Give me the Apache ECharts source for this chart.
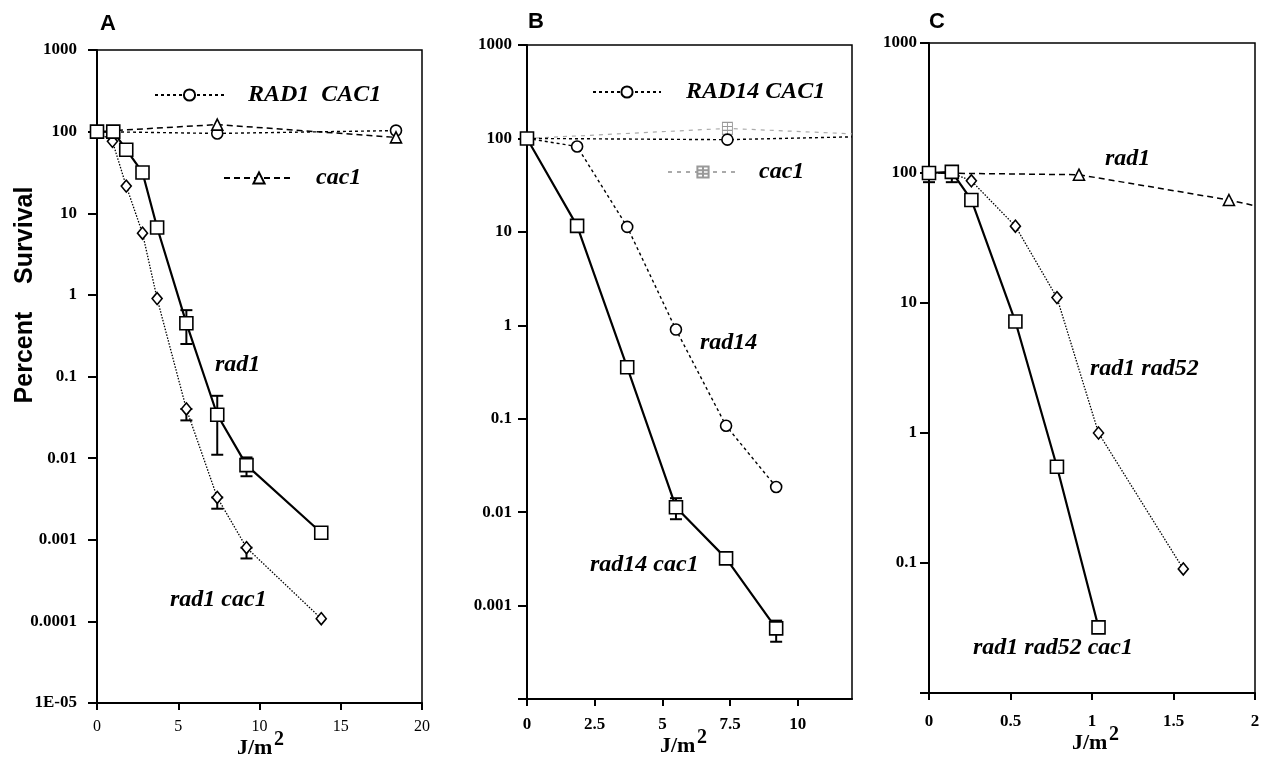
<!DOCTYPE html>
<html><head><meta charset="utf-8">
<script src="https://cdn.jsdelivr.net/npm/echarts@6/dist/echarts.min.js"></script>
<style>html,body{margin:0;padding:0;background:#fff}#c{width:1262px;height:760px}</style>
</head><body><div id="c"></div>
<script>
// ---------- Panel A ----------
const aRad1X    = [0, 1.0, 1.8, 2.8, 3.7, 5.5, 7.4, 9.2, 13.8];
const aRad1Y    = [100, 100, 60, 31.6, 6.7, 0.45, 0.034, 0.0082, 0.00122];
const aRad1CacX = [0, 0.95, 1.8, 2.8, 3.7, 5.5, 7.4, 9.2, 13.8];
const aRad1CacY = [100, 76, 21.5, 5.7, 0.9, 0.040, 0.0033, 0.0008, 0.000108];
const aWtX      = [0, 7.4, 18.4];
const aWtY      = [100, 95, 103];
const aCacX     = [0, 7.4, 18.4];
const aCacY     = [100, 122, 85];
const aRad1Err    = [[2.8, 27, 33], [5.5, 0.25, 0.65], [7.4, 0.011, 0.058], [9.2, 0.006, 0.0102]];
const aRad1CacErr = [[5.5, 0.029, 0.04], [7.4, 0.0024, 0.0033], [9.2, 0.00059, 0.0008]];
const aYTicks = ['1E-05','0.0001','0.001','0.01','0.1','1','10','100','1000'];

// ---------- Panel B ----------
const bRad14CacX = [0, 1.85, 3.7, 5.5, 7.35, 9.2];
const bRad14CacY = [100, 11.6, 0.355, 0.0113, 0.0032, 0.00057];
const bRad14X    = [0, 1.85, 3.7, 5.5, 7.35, 9.2];
const bRad14Y    = [100, 82, 11.3, 0.9, 0.084, 0.0186];
const bWtX       = [0, 7.4, 12];
const bWtY       = [100, 97, 104];
const bCacX      = [0, 7.4, 12];
const bCacY      = [100, 128, 112];
const bRad14CacErr = [[5.5, 0.0084, 0.0141], [9.2, 0.00041, 0.00069]];
const bYTicks = ['', '0.001','0.01','0.1','1','10','100','1000'];

// ---------- Panel C ----------
const cRad1X       = [0, 0.92, 1.84, 2.0];
const cRad1Y       = [100, 97, 62, 56];
const cRad52CacX   = [0, 0.14, 0.26, 0.53, 0.785, 1.04];
const cRad52CacY   = [100, 102, 62, 7.2, 0.55, 0.032];
const cRad52X      = [0, 0.14, 0.26, 0.53, 0.785, 1.04, 1.56];
const cRad52Y      = [100, 100, 87, 39, 11, 1.0, 0.09];
const cRad52CacErr = [[0, 85, 100], [0.14, 85, 102]];
const cYTicks = ['', '0.1','1','10','100','1000'];

const zip = (xs, ys) => xs.map((x, i) => [x, ys[i]]);
const SERIF = '"Liberation Serif", "Times New Roman", serif';
const SANS = '"Liberation Sans", Arial, sans-serif';
const LBL = 'italic bold 24px ' + SERIF;

const chart = echarts.init(document.getElementById('c'), null, {renderer: 'canvas'});

function yAxis(gi, minExp, maxExp, ticks, margin) {
  return {
    type: 'log', logBase: 10, gridIndex: gi,
    min: Math.pow(10, minExp), max: Math.pow(10, maxExp), interval: 1,
    axisLine: {show: true, lineStyle: {color: '#000', width: 2}},
    axisTick: {show: true, inside: false, length: 9, lineStyle: {color: '#000', width: 2}},
    minorTick: {show: false}, splitLine: {show: false},
    axisLabel: {
      margin: margin, color: '#000', fontFamily: SERIF, fontWeight: 'bold', fontSize: 17,
      formatter: v => { const e = Math.round(Math.log10(v)); return ticks[e - minExp] || ''; }
    }
  };
}
function xAxis(gi, max, interval, bold, margin, labels) {
  return {
    type: 'value', gridIndex: gi, min: 0, max: max, interval: interval,
    axisLine: {show: true, onZero: false, lineStyle: {color: '#000', width: 2}},
    axisTick: {show: true, inside: false, length: 7, lineStyle: {color: '#000', width: 2}},
    splitLine: {show: false},
    axisLabel: {
      margin: margin, color: '#000', fontFamily: SERIF, fontWeight: bold ? 'bold' : 'normal',
      fontSize: bold ? 17 : 16, showMaxLabel: labels,
      formatter: v => String(v)
    }
  };
}
const sym = {color: '#fff', borderColor: '#000', borderWidth: 1.6};
function line(name, data, xi, lineType, lineWidth, symbol, size, extra) {
  return Object.assign({
    type: 'line', name: name, xAxisIndex: xi, yAxisIndex: xi, data: data, z: 3,
    symbol: symbol, symbolSize: size, showSymbol: true, clip: true,
    lineStyle: {color: '#000', width: lineWidth, type: lineType},
    itemStyle: Object.assign({}, sym),
    emphasis: {disabled: true}, animation: false
  }, extra || {});
}
function errSeries(data, xi) {
  return {
    type: 'custom', xAxisIndex: xi, yAxisIndex: xi, data: data, z: 2, animation: false,
    renderItem: (params, api) => {
      const x = api.value(0), lo = api.value(1), hi = api.value(2);
      const p1 = api.coord([x, lo]), p2 = api.coord([x, hi]);
      const w = 6, st = {stroke: '#000', lineWidth: 2};
      return {type: 'group', children: [
        {type: 'line', shape: {x1: p1[0], y1: p1[1], x2: p2[0], y2: p2[1]}, style: st},
        {type: 'line', shape: {x1: p1[0] - w, y1: p1[1], x2: p1[0] + w, y2: p1[1]}, style: st},
        {type: 'line', shape: {x1: p2[0] - w, y1: p2[1], x2: p2[0] + w, y2: p2[1]}, style: st}
      ]};
    }
  };
}
const lastNone = (arr) => arr.map((p, i) => i === arr.length - 1 ? {value: p, symbol: 'none'} : p);
const hatch = 'path://M0 0H12V14H0Z M0 4.7H12 M0 9.3H12 M6 0V14';
const legendFmt = n => n.split(': ')[1];
function legend(name, left, top, width, pad) {
  return {
    data: [name], left: left, top: top, itemWidth: width, itemHeight: 14, padding: 0,
    selectedMode: false, formatter: legendFmt,
    textStyle: {color: '#000', fontFamily: SERIF, fontStyle: 'italic', fontWeight: 'bold', fontSize: 24, padding: [0, 0, 0, pad]}
  };
}
function label(text, x, y) {
  return {type: 'text', x: x, y: y, z: 10, style: {text: text, font: LBL, fill: '#000', verticalAlign: 'middle'}};
}
function unitTitle(x, y) {
  return [
    {type: 'text', x: x, y: y, z: 10, style: {text: 'J/m', font: 'bold 22px ' + SERIF, fill: '#000', verticalAlign: 'middle'}},
    {type: 'text', x: x + 37, y: y - 8, z: 10, style: {text: '2', font: 'bold 20px ' + SERIF, fill: '#000', verticalAlign: 'middle'}}
  ];
}
const gridBase = {show: true, borderColor: '#000', borderWidth: 1.5, backgroundColor: 'transparent', containLabel: false, outerBoundsMode: 'none'};

const option = {
  backgroundColor: '#fff',
  animation: false,
  title: [
    {text: 'A', left: 100, top: 13, padding: 0, textStyle: {fontFamily: SANS, fontWeight: 'bold', fontSize: 22, color: '#000'}},
    {text: 'B', left: 528, top: 11, padding: 0, textStyle: {fontFamily: SANS, fontWeight: 'bold', fontSize: 22, color: '#000'}},
    {text: 'C', left: 929, top: 11, padding: 0, textStyle: {fontFamily: SANS, fontWeight: 'bold', fontSize: 22, color: '#000'}}
  ],
  grid: [
    Object.assign({left: 97, top: 50, width: 325, height: 653}, gridBase),
    Object.assign({left: 527, top: 45, width: 325, height: 654}, gridBase),
    Object.assign({left: 929, top: 43, width: 326, height: 650}, gridBase)
  ],
  xAxis: [
    xAxis(0, 20, 5, false, 16, true),
    xAxis(1, 12, 2.5, true, 17, false),
    xAxis(2, 2, 0.5, true, 20, true)
  ],
  yAxis: [
    yAxis(0, -5, 3, aYTicks, 20),
    yAxis(1, -4, 3, bYTicks, 15),
    yAxis(2, -2, 3, cYTicks, 12)
  ],
  legend: [
    legend('A: RAD1  CAC1', 154, 83, 69, 19),
    legend('A: cac1', 223, 166, 70, 17),
    legend('B: RAD14 CAC1', 592, 80, 68, 20),
    legend('B: cac1', 667, 160, 70, 16)
  ],
  series: [
    // Panel A
    errSeries(aRad1Err, 0),
    errSeries(aRad1CacErr, 0),
    line('A: RAD1  CAC1', zip(aWtX, aWtY), 0, [3, 3], 1.4, 'circle', 11),
    line('A: cac1', zip(aCacX, aCacY), 0, [6, 4], 1.5, 'triangle', 11),
    line('A: rad1 cac1', zip(aRad1CacX, aRad1CacY), 0, [1.5, 1.5], 1.3, 'diamond', [10, 12]),
    line('A: rad1', zip(aRad1X, aRad1Y), 0, 'solid', 2.2, 'rect', 13),
    // Panel B
    errSeries(bRad14CacErr, 1),
    line('B: cac1', lastNone(zip(bCacX, bCacY)), 1, [4, 5], 1.2, hatch, [10, 12],
      {lineStyle: {color: '#aaa', width: 1.2, type: [4, 5]}, itemStyle: {color: '#fff', borderColor: '#999', borderWidth: 1}}),
    line('B: RAD14 CAC1', lastNone(zip(bWtX, bWtY)), 1, [3, 3], 1.4, 'circle', 11),
    line('B: rad14', zip(bRad14X, bRad14Y), 1, [3, 3], 1.4, 'circle', 11),
    line('B: rad14 cac1', zip(bRad14CacX, bRad14CacY), 1, 'solid', 2.2, 'rect', 13),
    // Panel C
    errSeries(cRad52CacErr, 2),
    line('C: rad1', lastNone(zip(cRad1X, cRad1Y)), 2, [6, 4], 1.5, 'triangle', 11),
    line('C: rad1 rad52', zip(cRad52X, cRad52Y), 2, [1.5, 1.5], 1.3, 'diamond', [10, 12]),
    line('C: rad1 rad52 cac1', zip(cRad52CacX, cRad52CacY), 2, 'solid', 2.2, 'rect', 13)
  ],
  graphic: [
    {type: 'text', x: 25, y: 295, rotation: Math.PI / 2, z: 10,
     style: {text: 'Percent    Survival', font: 'bold 25px ' + SANS, fill: '#000', align: 'center', verticalAlign: 'middle'}},
    label('rad1', 215, 365),
    label('rad1 cac1', 170, 600),
    label('rad14', 700, 343),
    label('rad14 cac1', 590, 565),
    label('rad1', 1105, 159),
    label('rad1 rad52', 1090, 369),
    label('rad1 rad52 cac1', 973, 648)
  ].concat(unitTitle(237, 748), unitTitle(660, 746), unitTitle(1072, 743))
};
chart.setOption(option);
</script>
</body></html>
